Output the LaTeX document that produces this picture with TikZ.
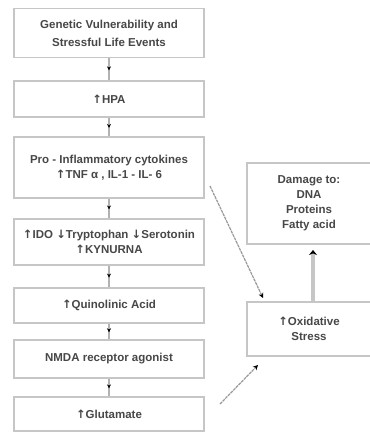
\documentclass[tikz,border=0pt]{standalone}
\usepackage{fontspec}
\setmainfont{Liberation Sans}
\newfontfamily\symf{DejaVu Sans}
\usetikzlibrary{arrows.meta,decorations.markings}
\newcommand{\up}{{\symf\char"2191}}
\newcommand{\dn}{{\symf\char"2193}}
\begin{document}
\begin{tikzpicture}[x=1pt,y=-1pt,
  box/.style={draw=gray!45,line width=1.6pt,fill=white,text=black!72,font=\bfseries\fontsize{11.5}{15}\selectfont,align=center,inner sep=0pt,anchor=center},
  flow/.style={draw=gray!60,line width=1.2pt,postaction={decorate},decoration={markings,mark=at position 0.55 with {\arrow[black,line width=0.6pt]{Stealth[length=4pt,width=4pt]}}}},
  diag/.style={draw=gray!80,line width=1.2pt,dash pattern=on 3pt off 0.8pt,-{Stealth[black,length=5pt,width=5pt]}},
  thick/.style={draw=gray!45,line width=4pt,-{Stealth[black,length=5pt,width=8pt]}}]
\useasboundingbox[fill=white] (0,0) rectangle (369,433);
\node[box,minimum width=190pt,minimum height=49pt,font=\bfseries\fontsize{11.5}{18}\selectfont] (b1) at (109,33) {Genetic Vulnerability and\\Stressful Life Events};
\node[box,minimum width=190pt,minimum height=36pt] (b2) at (109,99) {\up HPA};
\node[box,minimum width=190pt,minimum height=61pt] (b3) at (109,167.5) {Pro - Inflammatory cytokines\\\up TNF α , IL-1 - IL- 6};
\node[box,minimum width=190pt,minimum height=46pt] (b4) at (109,242) {\up IDO \dn Tryptophan \dn Serotonin\\\up KYNURNA};
\node[box,minimum width=190pt,minimum height=35pt] (b5) at (109,305.5) {\up Quinolinic Acid};
\node[box,minimum width=190pt,minimum height=38pt] (b6) at (109,359) {NMDA receptor agonist};
\node[box,minimum width=190pt,minimum height=34pt] (b7) at (109,414) {\up Glutamate};
\node[box,minimum width=124pt,minimum height=81pt] (dm) at (309,203.5) {Damage to:\\DNA\\Proteins\\Fatty acid};
\node[box,minimum width=124pt,minimum height=54pt] (ox) at (309,329) {\up Oxidative\\Stress};
\path[flow] (b1) -- (b2);
\path[flow] (b2) -- (b3);
\path[flow] (b3) -- (b4);
\path[flow] (b4) -- (b5);
\path[flow] (b5) -- (b6);
\path[flow] (b6) -- (b7);
\coordinate (s1) at (210,186);
\coordinate (e1) at (263,298);
\coordinate (s2) at (220,404);
\coordinate (e2) at (258,365);
\draw[diag] (s1) -- (e1);
\draw[diag] (s2) -- (e2);
\draw[thick] (ox.north -| 313,0) -- (313,250);
\end{tikzpicture}
\end{document}
